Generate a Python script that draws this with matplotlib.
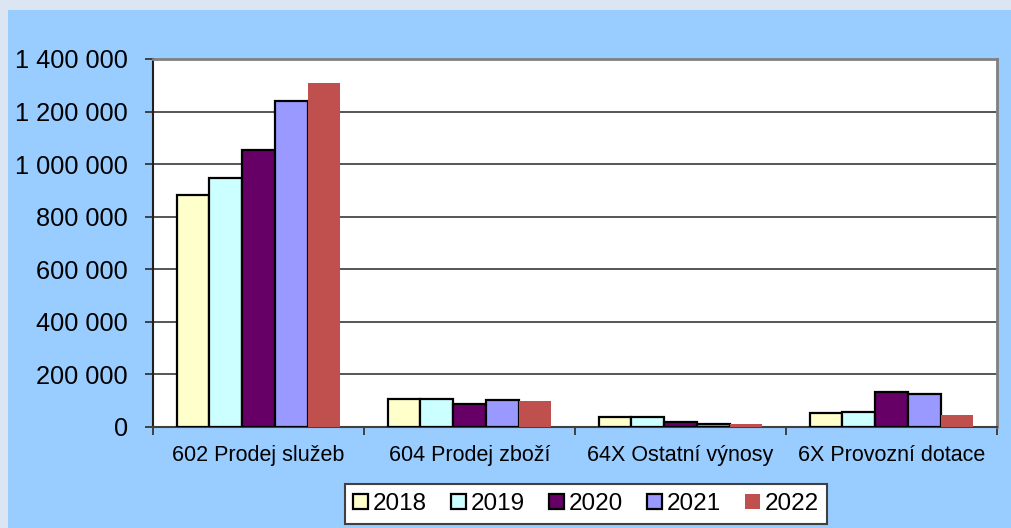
"""Bar chart of revenues by account group, 2018-2022 (Excel-style look)."""

import matplotlib

matplotlib.use("Agg")
import matplotlib.pyplot as plt
import numpy as np
from matplotlib.patches import Rectangle
from matplotlib.ticker import FuncFormatter, FixedLocator

plt.rcParams["font.family"] = ["Liberation Sans", "DejaVu Sans"]

categories = ["602 Prodej služeb", "604 Prodej zboží", "64X Ostatní výnosy", "6X Provozní dotace"]
years = ["2018", "2019", "2020", "2021", "2022"]
v2018 = [883000, 105000, 37000, 52000]
v2019 = [949000, 105000, 37000, 58000]
v2020 = [1052000, 86000, 20000, 134000]
v2021 = [1241000, 101000, 13000, 127000]
v2022 = [1308000, 100000, 12000, 47000]
series = [v2018, v2019, v2020, v2021, v2022]
yticks = [0, 200000, 400000, 600000, 800000, 1000000, 1200000, 1400000]

_COLORS = ["#ffffcc", "#ccffff", "#660066", "#9999ff", "#c0504d"]
_EDGES = ["black", "black", "black", "black", "none"]
_BG = "#99ccff"
_FRAME = "#dce6f2"

W, H = 1012, 528
fig = plt.figure(figsize=(W / 100, H / 100), dpi=100)
fig.patch.set_facecolor(_FRAME)
fig.add_artist(Rectangle((8 / W, 0), 1 - 8 / W, (H - 10) / H,
                         transform=fig.transFigure, facecolor=_BG,
                         edgecolor="none", zorder=-10))

ax = fig.add_axes([153 / W, (H - 427) / H, (997 - 153) / W, (427 - 59) / H])
ax.set_facecolor("white")

x = np.arange(len(categories))
bw = 0.155
for i, (vals, col, ec) in enumerate(zip(series, _COLORS, _EDGES)):
    ax.bar(x + (i - 2) * bw, vals, width=bw, color=col, edgecolor=ec,
           linewidth=1.6, label=years[i], zorder=3)

ax.set_xlim(-0.5, len(categories) - 0.5)
ax.set_ylim(0, 1400000)
ax.set_yticks(yticks)
ax.yaxis.set_major_formatter(FuncFormatter(lambda v, _: f"{int(v):,}".replace(",", " ")))
ax.grid(axis="y", color="#555555", linewidth=1.4, zorder=1)

ax.set_xticks(x)
ax.set_xticklabels(categories, fontsize=15.5)
ax.xaxis.set_minor_locator(FixedLocator(np.arange(-0.5, len(categories), 1.0)))
ax.tick_params(axis="x", which="major", length=0, pad=13)
ax.tick_params(axis="x", which="minor", length=6, width=1.4, color="#404040")
ax.tick_params(axis="y", length=6, width=1.4, color="#404040", pad=12, labelsize=18.3)

for side in ("top", "right"):
    ax.spines[side].set_color("#808080")
    ax.spines[side].set_linewidth(2)
ax.spines["left"].set_color("#202020")
ax.spines["left"].set_linewidth(1.5)
ax.spines["bottom"].set_color("#404040")
ax.spines["bottom"].set_linewidth(1.5)

leg = fig.legend(loc="center", bbox_to_anchor=(586 / W, (H - 504) / H), ncol=5,
                 fontsize=17.5, frameon=True, fancybox=False, framealpha=1,
                 handlelength=0.6, handleheight=0.6, handletextpad=0.2,
                 columnspacing=1.0, borderpad=0.35)
leg.get_frame().set_edgecolor("#404040")
leg.get_frame().set_linewidth(1.5)
leg.get_frame().set_facecolor("white")

fig.savefig("out.png", dpi=100, facecolor=fig.get_facecolor())
